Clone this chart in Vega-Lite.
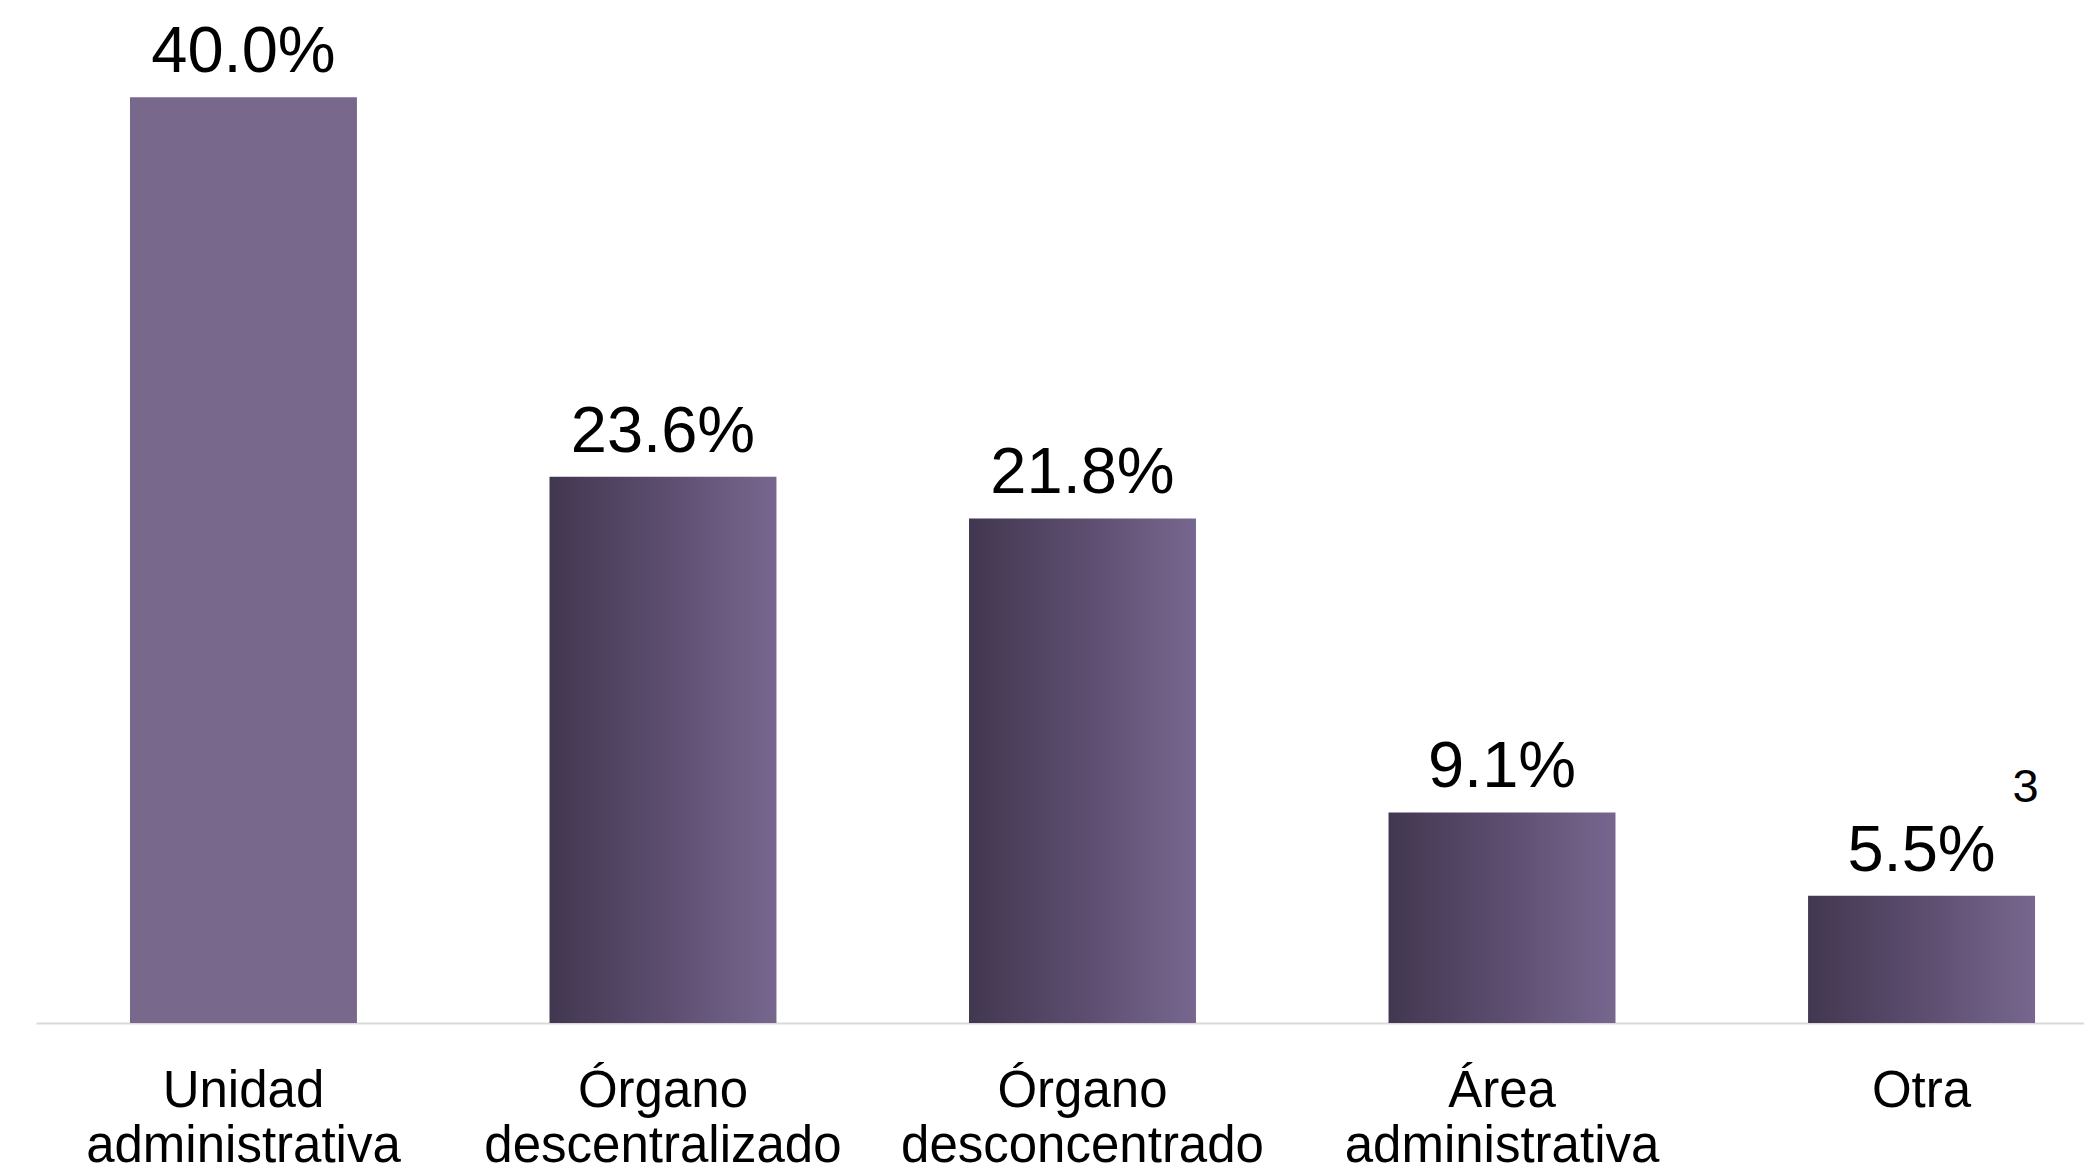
{
  "$schema": "https://vega.github.io/schema/vega-lite/v6.json",
  "width": 2084,
  "height": 1023,
  "autosize": {"type": "none"},
  "padding": {"left": 0, "top": 0, "right": 0, "bottom": 145},
  "background": "white",
  "config": {"view": {"stroke": null}, "font": "Liberation Sans"},
  "data": {
    "values": [
      {"tipo": "Unidad administrativa", "pct": 40.0, "etiqueta": "40.0%", "estilo": "solido", "nota": ""},
      {"tipo": "Órgano descentralizado", "pct": 23.6, "etiqueta": "23.6%", "estilo": "degradado", "nota": ""},
      {"tipo": "Órgano desconcentrado", "pct": 21.8, "etiqueta": "21.8%", "estilo": "degradado", "nota": ""},
      {"tipo": "Área administrativa", "pct": 9.1, "etiqueta": "9.1%", "estilo": "degradado", "nota": ""},
      {"tipo": "Otra", "pct": 5.5, "etiqueta": "5.5%", "estilo": "degradado", "nota": "3"}
    ]
  },
  "encoding": {
    "x": {
      "field": "tipo",
      "type": "nominal",
      "sort": null,
      "scale": {"range": [36, 2129], "paddingInner": 0.459, "paddingOuter": 0.224},
      "axis": {
        "title": null,
        "labelAngle": 0,
        "ticks": false,
        "tickSize": 0,
        "domainColor": "#d9d9d9",
        "domainWidth": 2,
        "labelFont": "Liberation Sans",
        "labelFontSize": 51,
        "labelColor": "#000000",
        "labelBaseline": "alphabetic",
        "labelPadding": 83,
        "labelLineHeight": 55,
        "labelLimit": 0,
        "labelOverlap": false,
        "labelExpr": "split(datum.label, ' ')"
      }
    },
    "y": {
      "field": "pct",
      "type": "quantitative",
      "scale": {"domain": [0, 44.2], "nice": false},
      "axis": null
    }
  },
  "layer": [
    {
      "transform": [{"filter": "datum.estilo == 'solido'"}],
      "mark": {"type": "bar", "color": "#77688c"}
    },
    {
      "transform": [{"filter": "datum.estilo == 'degradado'"}],
      "mark": {
        "type": "bar",
        "color": {
          "gradient": "linear",
          "x1": 0, "y1": 0, "x2": 1, "y2": 0,
          "stops": [
            {"offset": 0, "color": "#423750"},
            {"offset": 0.5, "color": "#5c4d6f"},
            {"offset": 1, "color": "#77678f"}
          ]
        }
      }
    },
    {
      "mark": {"type": "text", "baseline": "alphabetic", "dy": -25, "fontSize": 65, "font": "Liberation Sans", "color": "#000000"},
      "encoding": {"text": {"field": "etiqueta", "type": "nominal"}}
    },
    {
      "transform": [{"filter": "datum.nota != ''"}],
      "mark": {"type": "text", "baseline": "alphabetic", "dx": 104, "dy": -94, "fontSize": 47, "font": "Liberation Sans", "color": "#000000"},
      "encoding": {"text": {"field": "nota", "type": "nominal"}}
    }
  ]
}
